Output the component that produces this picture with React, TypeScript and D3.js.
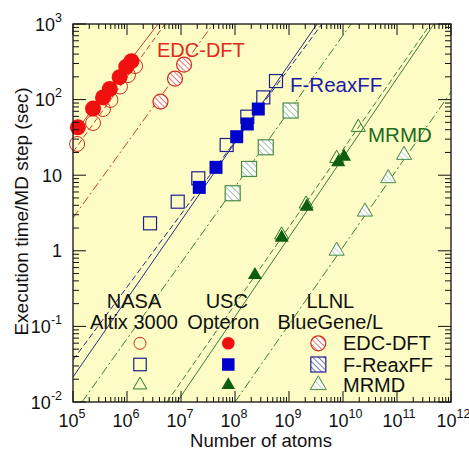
import React from "react";
import * as d3 from "d3";

const W = 469;
const H = 452;
const FRAME = { left: 73, right: 451, top: 24, bottom: 402 };
const FONT = "'Liberation Sans', Arial, Helvetica, sans-serif";

// Execution time per MD step (seconds) versus number of atoms: [atoms, seconds]
const edcUSC: [number, number][] = [[1.23e5, 43], [2.35e5, 76], [3.6e5, 107], [4.8e5, 138], [7.3e5, 198], [9.7e5, 272], [1.21e6, 322]];
const edcNASA: [number, number][] = [[1.19e5, 25.9], [2.35e5, 49], [3.59e5, 75], [4.94e5, 99], [7.41e5, 149], [1.04e6, 211], [1.41e6, 278]];
const edcLLNL: [number, number][] = [[4.17e6, 94], [7.74e6, 190], [1.14e7, 291]];
const reaxUSC: [number, number][] = [[2.18e7, 6.9], [4.45e7, 12.7], [1.075e8, 32.3], [1.69e8, 47.6], [2.7e8, 75]];
const reaxNASA: [number, number][] = [[2.67e6, 2.31], [8.69e6, 4.46], [2.09e7, 9.1], [7.01e7, 25.1], [1.69e8, 59.4], [3.34e8, 107], [5.74e8, 176]];
const reaxLLNL: [number, number][] = [[9.06e7, 5.77], [1.82e8, 12.1], [3.71e8, 23.4], [1.07e9, 71.7]];
const mrmdUSC: [number, number][] = [[2.34e8, 0.479], [7.32e8, 1.49], [2.13e9, 3.83], [8.19e9, 14.8], [1.044e10, 17.6]];
const mrmdNASA: [number, number][] = [[7.3e8, 1.62], [2.07e9, 4.16], [7.64e9, 16.7], [1.92e10, 43]];
const mrmdLLNL: [number, number][] = [[7.64e9, 1.0], [2.55e10, 3.29], [6.9e10, 9.1], [1.35e11, 18.5]];

// Linear-scaling fit lines, given by two end points [atoms, seconds]
const fitEdcUSC: [number, number][] = [[1e5, 34], [3.75e6, 1000]];
const fitEdcNASA: [number, number][] = [[1e5, 20.3], [5.06e6, 1000]];
const fitEdcLLNL: [number, number][] = [[1e5, 2.72], [3.92e7, 1000]];
const fitReaxUSC: [number, number][] = [[1e5, 0.0214], [3.3e9, 1000]];
const fitReaxNASA: [number, number][] = [[1e5, 0.036], [4.08e9, 1000]];
const fitReaxLLNL: [number, number][] = [[1.47e5, 0.01], [1.41e10, 1000]];
const fitMrmdUSC: [number, number][] = [[8.43e6, 0.01], [4.84e11, 1000]];
const fitMrmdNASA: [number, number][] = [[5.5e6, 0.01], [4.17e11, 1000]];
const fitMrmdLLNL: [number, number][] = [[1e8, 0.01], [1e12, 126]];

const xExponents = [5, 6, 7, 8, 9, 10, 11, 12];
const yExponents = [-2, -1, 0, 1, 2, 3];

const sites = ["NASA", "USC", "LLNL"];
const siteMachines = ["Altix 3000", "Opteron", "BlueGene/L"];
const methods = ["EDC-DFT", "F-ReaxFF", "MRMD"];

const C = {
  red: "#f01010",
  redLine: "#c8402c",
  redOpen: "#d42c1c",
  blue: "#0000cc",
  navy: "#20208e",
  blueLine: "#2a2a88",
  green: "#0e5e12",
  greenOpen: "#2e7a2e",
  greenLine: "#3e7c3e",
  greenHatch: "#4a8a4a",
  redText: "#e02a1a",
  blueText: "#1c1ca6",
  greenText: "#1e6a1e",
  bg: "#fcfcc4",
};

const x = d3.scaleLog().domain([1e5, 1e12]).range([FRAME.left, FRAME.right]);
const y = d3.scaleLog().domain([1e-2, 1e3]).range([FRAME.bottom, FRAME.top]);

const line = d3
  .line<[number, number]>()
  .x((d) => x(d[0]))
  .y((d) => y(d[1]));

const DASHED = "6,3";
const DASHDOT = "9,3,2,3";

function minorValues(lo: number, hi: number) {
  const out: number[] = [];
  for (let e = lo; e < hi; e++) {
    for (let k = 2; k <= 9; k++) out.push(k * Math.pow(10, e));
  }
  return out;
}

function tri(size: number) {
  return d3.symbol().type(d3.symbolTriangle).size(size)() as string;
}

function Circle({ cx, cy, r, fill, stroke, sw = 1 }: any) {
  return <circle cx={cx} cy={cy} r={r} fill={fill} stroke={stroke} strokeWidth={sw} />;
}

function Square({ cx, cy, s, fill, stroke, sw = 1.2 }: any) {
  return <rect x={cx - s / 2} y={cy - s / 2} width={s} height={s} fill={fill} stroke={stroke} strokeWidth={sw} />;
}

function Tri({ cx, cy, size, fill, stroke, sw = 1 }: any) {
  return <path d={tri(size)} transform={`translate(${cx},${cy})`} fill={fill} stroke={stroke} strokeWidth={sw} />;
}

function Pow({ px, py, exp, anchor }: { px: number; py: number; exp: number; anchor: string }) {
  if (exp === 0 || exp === 1) {
    return (
      <text x={px} y={py} textAnchor={anchor} fontSize={18} fontFamily={FONT} fill="#111">
        {exp === 0 ? "1" : "10"}
      </text>
    );
  }
  return (
    <text x={px} y={py} textAnchor={anchor} fontSize={18} fontFamily={FONT} fill="#111">
      10
      <tspan dy={-9} fontSize={12.5}>
        {String(exp)}
      </tspan>
    </text>
  );
}

export default function App() {
  const xMinor = minorValues(5, 12);
  const yMinor = minorValues(-2, 3);
  const xMajor = xExponents.map((e) => Math.pow(10, e));
  const yMajor = yExponents.map((e) => Math.pow(10, e));

  const lgX = [140, 228.3, 318.3];
  const lgY = [343.3, 364.5, 385];

  return (
    <svg width={W} height={H} style={{ position: "absolute", left: 0, top: 0 }}>
      <defs>
        <clipPath id="plotClip">
          <rect x={FRAME.left} y={FRAME.top} width={FRAME.right - FRAME.left} height={FRAME.bottom - FRAME.top} />
        </clipPath>
        <pattern id="hatchRed" width={4} height={4} patternUnits="userSpaceOnUse" patternTransform="rotate(-45)">
          <rect width={4} height={4} fill="#fff" />
          <line x1={0} y1={0} x2={0} y2={4} stroke={C.redOpen} strokeWidth={1.3} />
        </pattern>
        <pattern id="hatchNavy" width={4} height={4} patternUnits="userSpaceOnUse" patternTransform="rotate(-45)">
          <rect width={4} height={4} fill="#fff" />
          <line x1={0} y1={0} x2={0} y2={4} stroke={C.navy} strokeWidth={1.2} />
        </pattern>
        <pattern id="hatchGreen" width={4.5} height={4.5} patternUnits="userSpaceOnUse" patternTransform="rotate(-45)">
          <rect width={4.5} height={4.5} fill="#fff" />
          <line x1={0} y1={0} x2={0} y2={4.5} stroke={C.greenHatch} strokeWidth={1} />
        </pattern>
        <pattern id="hatchLight" width={4} height={4} patternUnits="userSpaceOnUse" patternTransform="rotate(-45)">
          <rect width={4} height={4} fill="#fff" />
          <line x1={0} y1={0} x2={0} y2={4} stroke="#8ab88a" strokeWidth={1} />
        </pattern>
      </defs>

      <rect x={0} y={0} width={W} height={H} fill="#fff" />
      <rect x={FRAME.left} y={FRAME.top} width={FRAME.right - FRAME.left} height={FRAME.bottom - FRAME.top} fill={C.bg} />

      {/* fit lines */}
      <g clipPath="url(#plotClip)" fill="none" strokeWidth={1}>
        <path d={line(fitEdcUSC)!} stroke={C.redLine} />
        <path d={line(fitEdcNASA)!} stroke={C.redLine} strokeDasharray={DASHED} />
        <path d={line(fitEdcLLNL)!} stroke={C.redLine} strokeDasharray={DASHDOT} />
        <path d={line(fitReaxUSC)!} stroke={C.blueLine} />
        <path d={line(fitReaxNASA)!} stroke={C.blueLine} strokeDasharray={DASHED} />
        <path d={line(fitReaxLLNL)!} stroke={C.greenLine} strokeDasharray={DASHDOT} />
        <path d={line(fitMrmdUSC)!} stroke={C.greenLine} />
        <path d={line(fitMrmdNASA)!} stroke={C.greenLine} strokeDasharray={DASHED} />
        <path d={line(fitMrmdLLNL)!} stroke={C.greenLine} strokeDasharray={DASHDOT} />
      </g>

      {/* EDC-DFT */}
      {edcNASA.map((d, i) => (
        <Circle key={"en" + i} cx={x(d[0])} cy={y(d[1])} r={7.5} fill="none" stroke={C.redOpen} />
      ))}
      {edcUSC.map((d, i) => (
        <Circle key={"eu" + i} cx={x(d[0])} cy={y(d[1])} r={8} fill={C.red} stroke="none" />
      ))}
      {edcLLNL.map((d, i) => (
        <Circle key={"el" + i} cx={x(d[0])} cy={y(d[1])} r={7.5} fill="url(#hatchRed)" stroke={C.redOpen} sw={1.2} />
      ))}

      {/* F-ReaxFF */}
      {reaxLLNL.map((d, i) => (
        <Square key={"rl" + i} cx={x(d[0])} cy={y(d[1])} s={15} fill="url(#hatchGreen)" stroke={C.greenHatch} />
      ))}
      {reaxNASA.map((d, i) => (
        <Square key={"rn" + i} cx={x(d[0])} cy={y(d[1])} s={13} fill="none" stroke={C.navy} />
      ))}
      {reaxUSC.map((d, i) => (
        <Square key={"ru" + i} cx={x(d[0])} cy={y(d[1])} s={13} fill={C.blue} stroke="none" />
      ))}

      {/* MRMD */}
      {mrmdLLNL.map((d, i) => (
        <Tri key={"ml" + i} cx={x(d[0])} cy={y(d[1])} size={100} fill="url(#hatchLight)" stroke={C.greenHatch} />
      ))}
      {mrmdNASA.map((d, i) => (
        <Tri key={"mn" + i} cx={x(d[0])} cy={y(d[1])} size={85} fill="none" stroke={C.greenOpen} />
      ))}
      {mrmdUSC.map((d, i) => (
        <Tri key={"mu" + i} cx={x(d[0])} cy={y(d[1])} size={85} fill={C.green} stroke="none" />
      ))}

      {/* method labels */}
      <text x={157} y={57} fontSize={20} fontFamily={FONT} fill={C.redText}>{methods[0]}</text>
      <text x={290} y={92} fontSize={20.5} fontFamily={FONT} fill={C.blueText}>{methods[1]}</text>
      <text x={368} y={142} fontSize={20.5} fontFamily={FONT} fill={C.greenText}>{methods[2]}</text>

      {/* legend */}
      {sites.map((s, i) => (
        <g key={s}>
          <text x={lgX[i] - (i === 0 ? 6 : i === 1 ? 1.5 : -12)} y={308} textAnchor="middle" fontSize={20} fontFamily={FONT} fill="#111">{s}</text>
          <text x={lgX[i] - (i === 0 ? 6 : i === 1 ? 5 : -12)} y={328.5} textAnchor="middle" fontSize={20} fontFamily={FONT} fill="#111">{siteMachines[i]}</text>
        </g>
      ))}
      <Circle cx={lgX[0]} cy={lgY[0]} r={6} fill="none" stroke={C.redOpen} />
      <Square cx={lgX[0]} cy={lgY[1]} s={12.5} fill="none" stroke={C.navy} />
      <Tri cx={lgX[0]} cy={lgY[2]} size={80} fill="none" stroke={C.greenOpen} />
      <Circle cx={lgX[1]} cy={lgY[0]} r={6.3} fill={C.red} stroke="none" />
      <Square cx={lgX[1]} cy={lgY[1]} s={12.5} fill={C.blue} stroke="none" />
      <Tri cx={lgX[1]} cy={lgY[2]} size={80} fill={C.green} stroke="none" />
      <Circle cx={lgX[2]} cy={lgY[0]} r={7.5} fill="url(#hatchRed)" stroke={C.redOpen} sw={1.2} />
      <Square cx={lgX[2]} cy={lgY[1]} s={15} fill="url(#hatchNavy)" stroke={C.navy} />
      <Tri cx={lgX[2]} cy={lgY[2]} size={110} fill="url(#hatchLight)" stroke={C.greenHatch} />
      {methods.map((m, i) => (
        <text key={m} x={343} y={lgY[i] + 7} fontSize={20} fontFamily={FONT} fill="#111">{m}</text>
      ))}

      {/* ticks */}
      <g stroke="#111" strokeWidth={1}>
        {xMinor.map((v, i) => (
          <g key={"xm" + i}>
            <line x1={x(v)} x2={x(v)} y1={FRAME.bottom} y2={FRAME.bottom - 5} />
            <line x1={x(v)} x2={x(v)} y1={FRAME.top} y2={FRAME.top + 5} />
          </g>
        ))}
        {xMajor.map((v, i) => (
          <g key={"xM" + i}>
            <line x1={x(v)} x2={x(v)} y1={FRAME.bottom} y2={FRAME.bottom - 11} />
            <line x1={x(v)} x2={x(v)} y1={FRAME.top} y2={FRAME.top + 11} />
          </g>
        ))}
        {yMinor.map((v, i) => (
          <g key={"ym" + i}>
            <line x1={FRAME.left} x2={FRAME.left + 6} y1={y(v)} y2={y(v)} />
            <line x1={FRAME.right} x2={FRAME.right - 6} y1={y(v)} y2={y(v)} />
          </g>
        ))}
        {yMajor.map((v, i) => (
          <g key={"yM" + i}>
            <line x1={FRAME.left} x2={FRAME.left + 13} y1={y(v)} y2={y(v)} />
            <line x1={FRAME.right} x2={FRAME.right - 13} y1={y(v)} y2={y(v)} />
          </g>
        ))}
      </g>
      <rect x={FRAME.left} y={FRAME.top} width={FRAME.right - FRAME.left} height={FRAME.bottom - FRAME.top} fill="none" stroke="#111" strokeWidth={1.3} />

      {/* tick labels */}
      {xExponents.map((e) => (
        <Pow key={"xl" + e} px={x(Math.pow(10, e)) - 14.5} py={427} exp={e} anchor="start" />
      ))}
      {yExponents.map((e) => (
        <Pow key={"yl" + e} px={62} py={y(Math.pow(10, e)) + 6.5} exp={e} anchor="end" />
      ))}

      {/* axis titles */}
      <text x={261} y={447} textAnchor="middle" fontSize={18.5} fontFamily={FONT} fill="#111">Number of atoms</text>
      <text transform="translate(28,211.5) rotate(-90)" textAnchor="middle" fontSize={19} fontFamily={FONT} fill="#111">
        Execution time/MD step (sec)
      </text>
    </svg>
  );
}
